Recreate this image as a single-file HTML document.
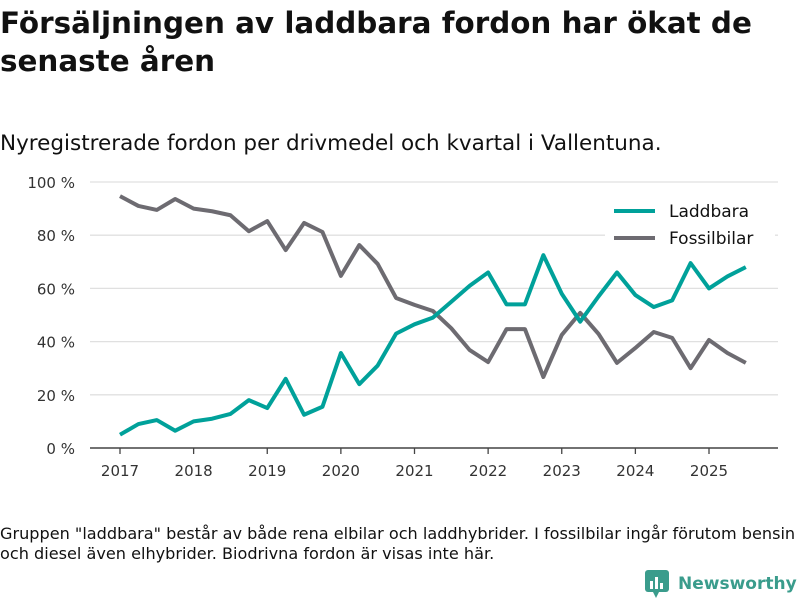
<!DOCTYPE html>
<html><head><meta charset="utf-8"><style>
body{margin:0;background:#fff;width:800px;height:600px;overflow:hidden;font-family:"DejaVu Sans","Liberation Sans",sans-serif;color:#111}
#t{position:absolute;left:0;top:4px;font-size:29.4px;font-weight:bold;line-height:38px;letter-spacing:0px;width:800px}
#s{position:absolute;left:0;top:131px;font-size:21.5px;letter-spacing:0px}
#n{position:absolute;left:0;top:524px;font-size:16.1px;line-height:20px;white-space:nowrap}
#logo{position:absolute;left:645px;top:570px;font-size:17px;font-weight:bold;color:#3a9c8c;display:flex;align-items:center}
svg{position:absolute;left:0;top:0}
</style></head><body>
<div id="t">Försäljningen av laddbara fordon har ökat de senaste åren</div>
<div id="s">Nyregistrerade fordon per drivmedel och kvartal i Vallentuna.</div>
<svg id="c" width="800" height="600"></svg>
<div id="n">Gruppen "laddbara" består av både rena elbilar och laddhybrider. I fossilbilar ingår förutom bensin<br>och diesel även elhybrider. Biodrivna fordon är visas inte här.</div>
<div id="logo"><svg width="26" height="28" style="position:static;margin-right:7px"><rect x="0" y="0" width="24" height="22" rx="3" fill="#3a9c8c"/><polygon points="8,22 14,22 11,28" fill="#3a9c8c"/><rect x="5" y="11" width="3" height="8" fill="#fff"/><rect x="10" y="7" width="3" height="12" fill="#fff"/><rect x="15" y="13" width="3" height="6" fill="#fff"/></svg>Newsworthy</div>
<script>
const years=["2017","2018","2019","2020","2021","2022","2023","2024","2025"];
const yTicks=[0,20,40,60,80,100];
const laddbara=[5,9,10.5,6.5,10,11,12.8,18,15,26,12.5,15.5,35.7,24,31,43,46.5,49,55,61,66,54,54,72.5,58,47.5,57,66,57.5,53,55.5,69.5,60,64.5,68];
const fossil=[94.7,91,89.5,93.6,90,89,87.5,81.5,85.3,74.4,84.6,81.2,64.7,76.3,69.2,56.4,53.8,51.5,45,36.8,32.3,44.7,44.7,26.7,42.5,50.8,42.9,32,37.6,43.6,41.4,30,40.6,35.7,32];
const svg=document.getElementById('c');const NS="http://www.w3.org/2000/svg";
const X=q=>120+q*(589/32);const Y=v=>448-v*2.66;
function el(t,a,p){const e=document.createElementNS(NS,t);for(const k in a)e.setAttribute(k,a[k]);(p||svg).appendChild(e);return e;}
yTicks.forEach(v=>{
 if(v>0){const g=el('line',{x1:90,x2:778,y1:Y(v),y2:Y(v),stroke:'#e0e0e0','stroke-width':1.3});
 
 }
 const t=el('text',{x:75,y:Y(v)+6,'text-anchor':'end','font-size':15,fill:'#333'});t.textContent=v+' %';
 
 
});
const ax=el('line',{x1:90,x2:778,y1:448,y2:448,stroke:'#444','stroke-width':1.5});


years.forEach((y,i)=>{const x=X(i*4);
 el('line',{x1:x,x2:x,y1:448,y2:454,stroke:'#444','stroke-width':1.3});
 const t=el('text',{x:x,y:476,'text-anchor':'middle','font-size':15,fill:'#333'});t.textContent=y;
 
 
});
function line(d,c,n){const p=el('polyline',{points:d.map((v,i)=>X(i)+','+Y(v)).join(' '),fill:'none',stroke:c,'stroke-width':4,'stroke-linejoin':'round'});
 
 }
line(fossil,'#6d6b71','fossilbilar-line');
line(laddbara,'#00a19a','laddbara-line');
const lbg=el('rect',{x:605,y:224,width:170,height:28,fill:'#fff'});
[['Laddbara','#00a19a',211],['Fossilbilar','#6d6b71',238]].forEach(([n,c,y])=>{
 const g=el('g',{});
 
 
 el('line',{x1:614,x2:655,y1:y,y2:y,stroke:c,'stroke-width':4},g);
 const t=el('text',{x:669,y:y+6,'font-size':17,fill:'#111'},g);t.textContent=n;
});
</script>
</body></html>
